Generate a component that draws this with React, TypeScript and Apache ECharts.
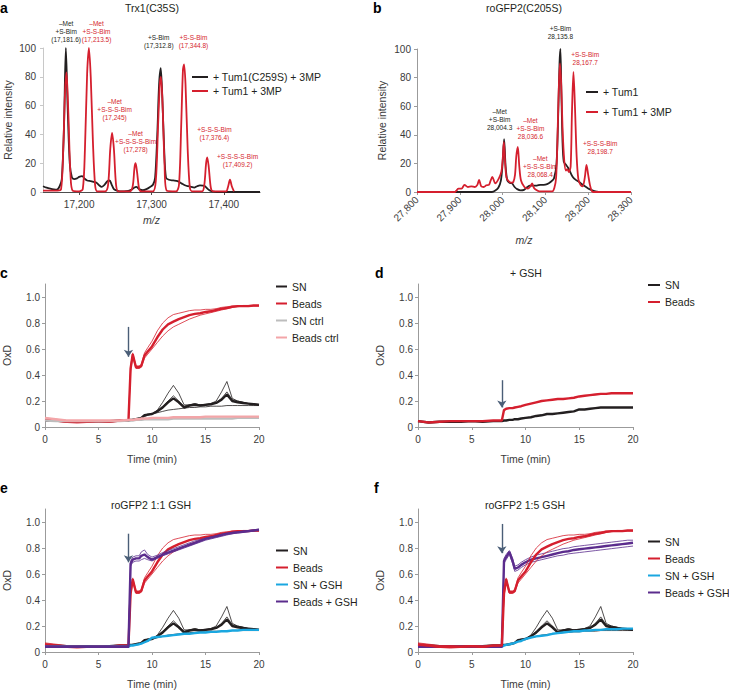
import React, { useEffect, useRef } from 'react';
import * as echarts from 'echarts';

const FONT = '"Liberation Sans", Arial, Helvetica, sans-serif';
const BLACK = '#231f20';
const RED = '#d51f2e';
const GREY = '#bdbdbd';
const PINK = '#f3a5a8';
const CYAN = '#1aa7e0';
const PURPLE = '#5b2c8d';
const ARROW = '#4a5e77';
const AXIS = '#9b9b9b';
const TEXT = '#3a3a3a';

// ---------- Panel a: Trx1(C35S) mass spectra [m/z, relative intensity] ----------
const TRX_C259S = [
  [17150, 4], [17155, 3], [17160, 2.3], [17165, 1.8], [17169, 1.6], [17173, 4], [17176, 9], [17179, 45],
  [17181.6, 100], [17184, 60], [17187, 20], [17190, 10], [17193, 9], [17197, 9.5], [17200, 10.5], [17204, 11],
  [17208, 9], [17211, 8], [17216, 7.5], [17220, 7], [17224, 6.5], [17228, 4.5], [17231, 3.5], [17235, 5],
  [17239, 7.5], [17242, 8], [17245, 5], [17248, 2], [17252, 1], [17256, 0.5], [17262, 0.5], [17268, 0.8],
  [17272, 1.5], [17276, 3], [17279, 3.5], [17283, 2], [17288, 1.2], [17293, 2], [17298, 3.5], [17302, 5],
  [17305, 10], [17308, 40], [17310.5, 75], [17312.8, 86], [17315, 65], [17317.5, 30], [17320, 10], [17324, 8.5],
  [17330, 8], [17336, 7.5], [17342, 5.8], [17347, 4.5], [17351, 4], [17355, 3.5], [17359, 3], [17363, 4],
  [17367, 4.6], [17371, 4.5], [17374, 4], [17378, 2], [17381, 1], [17386, 0.3], [17390, 0], [17450, 0],
];
const TRX_TUM1 = [
  [17150, 1], [17160, 1], [17170, 1], [17175, 2], [17178, 30], [17180.5, 70], [17182.5, 83], [17185, 55],
  [17188, 12], [17191, 1], [17200, 0.5], [17205, 2], [17208, 30], [17211, 82], [17213.5, 100], [17216, 80],
  [17219, 35], [17222, 5], [17225, 0.5], [17236, 0.5], [17240, 5], [17243, 30], [17245.5, 41], [17248, 30],
  [17251, 5], [17254, 0.5], [17270, 0.5], [17274, 4], [17276.5, 17], [17278, 20], [17280, 14], [17283, 2],
  [17286, 0.5], [17302, 0.5], [17306, 8], [17309, 45], [17311.5, 75], [17313, 80], [17315, 65], [17318, 20],
  [17321, 1], [17334, 0.5], [17338, 5], [17341, 45], [17343.5, 85], [17345, 88.6], [17347, 75], [17350, 30],
  [17353, 3], [17356, 0.5], [17370, 0.5], [17373, 5], [17375.5, 20], [17377, 24], [17379, 18], [17382, 3],
  [17385, 0.5], [17403, 0.5], [17406, 4], [17408.5, 8.6], [17411, 4], [17414, 0.5],
];

// ---------- Panel b: roGFP2(C205S) mass spectra ----------
const GFP_TUM1 = [
  [27800, 0], [27975, 0], [27983, 1], [27990, 3], [27996, 8], [28000, 20], [28003.5, 37], [28007, 18],
  [28011, 8], [28016, 6.5], [28022, 6], [28028, 3.5], [28034, 2], [28042, 1.2], [28050, 1.5], [28058, 3.5],
  [28064, 4.5], [28072, 4.5], [28080, 4.5], [28088, 5], [28096, 5], [28104, 5.5], [28112, 7], [28120, 9.5],
  [28126, 20], [28130, 55], [28133, 90], [28135, 100], [28137, 75], [28140, 35], [28143, 21], [28148, 19],
  [28153, 17], [28158, 14], [28164, 10.5], [28171, 8.5], [28179, 7], [28187, 5], [28195, 3.5], [28203, 2],
  [28211, 1], [28220, 0.3], [28226, 0], [28300, 0],
];
const GFP_TUM1_3MP = [
  [27800, 0], [27888, 0], [27892, 1], [27897, 2.3], [27904, 2.3], [27911, 5], [27919, 3.5], [27927, 4],
  [27935, 3.5], [27941, 5], [27945, 8.5], [27950, 4], [27956, 3.5], [27962, 4.7], [27968, 5], [27972, 8],
  [27976, 10.5], [27983, 6], [27991, 9.4], [27997, 14], [28000, 22], [28003, 35], [28006, 20], [28009, 10],
  [28013, 8], [28020, 6.5], [28025, 7], [28029, 12], [28032, 25], [28035.5, 31.5], [28039, 18], [28043, 8],
  [28051, 3.5], [28059, 2.3], [28065, 4], [28069, 6], [28073, 3], [28078, 1.5], [28086, 0.5], [28116, 0.5],
  [28121, 3], [28125, 10], [28128, 35], [28131, 70], [28134, 90], [28137, 75], [28140, 45], [28144, 22],
  [28148, 15], [28151, 16], [28155, 14], [28159, 18], [28162, 55], [28165.5, 84], [28169, 60], [28173, 25],
  [28177, 9], [28182, 5], [28187, 4], [28192, 10], [28196, 19], [28200, 12], [28204, 5], [28208, 1],
  [28212, 0], [28300, 0],
];

const MZ_A_TICKS = [17200, 17300, 17400];
const OXD_TICKS = [0, 0.2, 0.4, 0.6, 0.8, 1.0];

// ---------- Panels c-f: OxD time courses ----------
const TIME = [0, 1, 2, 3, 4, 5, 6, 7, 7.8, 8, 8.2, 8.5, 8.8, 9, 9.3, 9.6, 10, 10.5, 11, 11.5, 12, 12.5, 13, 13.5,
  14, 14.5, 15, 15.5, 16, 16.5, 17, 17.5, 18, 18.5, 19, 19.5, 20];

const SN_MEAN = [0.05, 0.05, 0.045, 0.045, 0.045, 0.045, 0.045, 0.05, 0.05,
  0.055, 0.055, 0.06, 0.065, 0.07, 0.09, 0.095,
  0.1, 0.12, 0.15, 0.19, 0.22, 0.19, 0.15, 0.165, 0.17, 0.165, 0.17, 0.175, 0.185, 0.21, 0.25, 0.2, 0.19, 0.185, 0.18, 0.175, 0.17];
const SN_REP1 = [0.05, 0.05, 0.045, 0.045, 0.045, 0.045, 0.045, 0.05, 0.05,
  0.055, 0.055, 0.06, 0.065, 0.07, 0.09, 0.095,
  0.1, 0.13, 0.19, 0.26, 0.32, 0.26, 0.17, 0.17, 0.18, 0.17, 0.17, 0.18, 0.2, 0.27, 0.35, 0.22, 0.2, 0.19, 0.18, 0.175, 0.17];
const SN_REP2 = [0.045, 0.045, 0.04, 0.04, 0.04, 0.04, 0.04, 0.045, 0.05,
  0.05, 0.055, 0.06, 0.065, 0.07, 0.08, 0.09,
  0.1, 0.11, 0.12, 0.13, 0.135, 0.14, 0.145, 0.15, 0.15, 0.155, 0.155, 0.16, 0.16, 0.16, 0.165, 0.165, 0.165, 0.165, 0.165, 0.165, 0.165];
const SN_REP3 = [0.05, 0.05, 0.05, 0.045, 0.045, 0.045, 0.045, 0.05, 0.05,
  0.055, 0.06, 0.06, 0.065, 0.07, 0.09, 0.1,
  0.1, 0.125, 0.16, 0.2, 0.24, 0.2, 0.16, 0.17, 0.18, 0.17, 0.175, 0.18, 0.19, 0.22, 0.27, 0.21, 0.2, 0.19, 0.18, 0.18, 0.175];

const BEADS_MEAN = [0.06, 0.05, 0.04, 0.04, 0.04, 0.045, 0.04, 0.05, 0.05,
  0.45, 0.56, 0.46, 0.46, 0.47, 0.55, 0.58,
  0.62, 0.69, 0.75, 0.79, 0.81, 0.83, 0.845, 0.86, 0.87, 0.875, 0.885, 0.89, 0.9, 0.91, 0.915, 0.925, 0.93, 0.93, 0.93, 0.935, 0.935];
const BEADS_REP1 = [0.07, 0.06, 0.05, 0.05, 0.045, 0.05, 0.045, 0.05, 0.05,
  0.47, 0.57, 0.47, 0.47, 0.48, 0.57, 0.61,
  0.66, 0.74, 0.8, 0.84, 0.865, 0.875, 0.885, 0.895, 0.9, 0.9, 0.905, 0.905, 0.91, 0.92, 0.925, 0.93, 0.93, 0.935, 0.935, 0.935, 0.935];
const BEADS_REP2 = [0.05, 0.045, 0.035, 0.03, 0.035, 0.04, 0.035, 0.045, 0.05,
  0.43, 0.54, 0.45, 0.45, 0.46, 0.53, 0.56,
  0.6, 0.65, 0.7, 0.74, 0.77, 0.79, 0.81, 0.83, 0.845, 0.86, 0.87, 0.88, 0.89, 0.9, 0.91, 0.92, 0.925, 0.93, 0.93, 0.93, 0.93];

const SN_CTRL = [0.05, 0.045, 0.045, 0.045, 0.045, 0.045, 0.045, 0.045, 0.05,
  0.05, 0.05, 0.055, 0.055, 0.055, 0.06, 0.06,
  0.06, 0.06, 0.06, 0.06, 0.065, 0.065, 0.065, 0.065, 0.065, 0.065, 0.065, 0.065, 0.065, 0.065, 0.065, 0.065, 0.07, 0.07, 0.07, 0.07, 0.07];
const BEADS_CTRL = [0.07, 0.06, 0.05, 0.05, 0.05, 0.05, 0.05, 0.05, 0.055,
  0.055, 0.055, 0.06, 0.06, 0.065, 0.065, 0.065,
  0.07, 0.07, 0.07, 0.07, 0.075, 0.075, 0.075, 0.075, 0.075, 0.075, 0.08, 0.08, 0.08, 0.08, 0.08, 0.08, 0.08, 0.08, 0.08, 0.08, 0.08];

const D_SN = [0.045, 0.035, 0.04, 0.04, 0.04, 0.045, 0.04, 0.045, 0.045,
  0.05, 0.05, 0.055, 0.055, 0.06, 0.06, 0.065,
  0.07, 0.075, 0.085, 0.09, 0.1, 0.1, 0.105, 0.11, 0.115, 0.12, 0.135, 0.135, 0.14, 0.145, 0.15, 0.15, 0.15, 0.15, 0.15, 0.15, 0.15];
const D_BEADS = [0.045, 0.035, 0.04, 0.045, 0.045, 0.045, 0.045, 0.05, 0.05,
  0.13, 0.14, 0.145, 0.145, 0.15, 0.155, 0.16,
  0.17, 0.18, 0.19, 0.2, 0.205, 0.21, 0.215, 0.215, 0.22, 0.225, 0.235, 0.24, 0.245, 0.25, 0.255, 0.255, 0.26, 0.26, 0.26, 0.26, 0.26];

const E_SN_GSH = [0.04, 0.04, 0.04, 0.04, 0.04, 0.04, 0.04, 0.04, 0.04,
  0.05, 0.05, 0.055, 0.06, 0.065, 0.075, 0.085,
  0.11, 0.115, 0.12, 0.125, 0.13, 0.135, 0.14, 0.14, 0.145, 0.15, 0.15, 0.155, 0.155, 0.16, 0.16, 0.165, 0.165, 0.17, 0.17, 0.17, 0.17];
const E_BG_MEAN = [0.04, 0.04, 0.04, 0.04, 0.04, 0.04, 0.04, 0.04, 0.04,
  0.68, 0.71, 0.72, 0.72, 0.74, 0.75, 0.73,
  0.71, 0.73, 0.75, 0.765, 0.78, 0.795, 0.81, 0.825, 0.84, 0.855, 0.87, 0.88, 0.89, 0.9, 0.91, 0.915, 0.92, 0.925, 0.93, 0.935, 0.94];
const E_BG_REP1 = [0.045, 0.045, 0.045, 0.045, 0.045, 0.045, 0.045, 0.045, 0.045,
  0.7, 0.73, 0.74, 0.74, 0.77, 0.785, 0.75,
  0.73, 0.745, 0.765, 0.78, 0.795, 0.81, 0.825, 0.84, 0.855, 0.865, 0.875, 0.885, 0.895, 0.905, 0.91, 0.92, 0.925, 0.93, 0.935, 0.94, 0.945];
const E_BG_REP2 = [0.035, 0.035, 0.035, 0.035, 0.035, 0.035, 0.035, 0.035, 0.035,
  0.66, 0.69, 0.7, 0.7, 0.71, 0.72, 0.71,
  0.7, 0.72, 0.74, 0.755, 0.77, 0.785, 0.8, 0.815, 0.83, 0.845, 0.86, 0.87, 0.88, 0.89, 0.9, 0.91, 0.915, 0.92, 0.925, 0.93, 0.935];

const F_SN_GSH = [0.04, 0.04, 0.04, 0.04, 0.04, 0.04, 0.04, 0.04, 0.04,
  0.05, 0.055, 0.06, 0.065, 0.07, 0.08, 0.085,
  0.1, 0.11, 0.12, 0.125, 0.13, 0.14, 0.145, 0.15, 0.155, 0.16, 0.16, 0.165, 0.165, 0.17, 0.17, 0.175, 0.175, 0.175, 0.18, 0.18, 0.18];
const F_BG_MEAN = [0.04, 0.04, 0.04, 0.04, 0.04, 0.04, 0.04, 0.04, 0.04,
  0.7, 0.73, 0.77, 0.7, 0.64, 0.65, 0.67,
  0.69, 0.71, 0.72, 0.73, 0.74, 0.75, 0.76, 0.77, 0.775, 0.785, 0.79, 0.795, 0.8, 0.805, 0.81, 0.815, 0.82, 0.825, 0.83, 0.835, 0.84];
const F_BG_REP1 = [0.045, 0.045, 0.045, 0.045, 0.045, 0.045, 0.045, 0.045, 0.045,
  0.72, 0.75, 0.78, 0.72, 0.66, 0.67, 0.69,
  0.71, 0.73, 0.745, 0.755, 0.765, 0.775, 0.785, 0.795, 0.8, 0.81, 0.815, 0.82, 0.825, 0.83, 0.835, 0.84, 0.845, 0.85, 0.855, 0.86, 0.86];
const F_BG_REP2 = [0.035, 0.035, 0.035, 0.035, 0.035, 0.035, 0.035, 0.035, 0.035,
  0.68, 0.71, 0.75, 0.68, 0.62, 0.63, 0.65,
  0.67, 0.69, 0.7, 0.71, 0.72, 0.73, 0.74, 0.745, 0.755, 0.76, 0.765, 0.77, 0.775, 0.78, 0.785, 0.79, 0.795, 0.8, 0.805, 0.81, 0.815];

// ---------- annotations ----------
const ANNOT_A = [
  { lines: ['–Met', '+S-Bim', '(17,181.6)'], x: 17182, y: 103, color: BLACK },
  { lines: ['–Met', '+S-S-Bim', '(17,213.5)'], x: 17224, y: 103, color: RED },
  { lines: ['+S-Bim', '(17,312.8)'], x: 17310, y: 99.3, color: BLACK },
  { lines: ['+S-S-Bim', '(17,344.8)'], x: 17358, y: 99.3, color: RED },
  { lines: ['–Met', '+S-S-S-Bim', '(17,245)'], x: 17249, y: 49.3, color: RED },
  { lines: ['–Met', '+S-S-S-S-Bim', '(17,278)'], x: 17278, y: 27, color: RED },
  { lines: ['+S-S-S-Bim', '(17,376.4)'], x: 17387, y: 35.4, color: RED },
  { lines: ['+S-S-S-S-Bim', '(17,409.2)'], x: 17419, y: 16, color: RED },
];
const ANNOT_B = [
  { lines: ['+S-Bim', '28,135.8'], x: 28135, y: 105.8, color: BLACK },
  { lines: ['+S-S-Bim', '28,167.7'], x: 28193, y: 87.6, color: RED },
  { lines: ['–Met', '+S-Bim', '28,004.3'], x: 27993, y: 42.6, color: BLACK },
  { lines: ['–Met', '+S-S-Bim', '28,036.6'], x: 28065, y: 36.3, color: RED },
  { lines: ['–Met', '+S-S-S-Bim', '28,068.4'], x: 28088, y: 9.6, color: RED },
  { lines: ['+S-S-S-Bim', '28,198.7'], x: 28228, y: 25.8, color: RED },
];

const PANEL_LETTERS = [
  { t: 'a', x: 0, y: 1 }, { t: 'b', x: 373, y: 1 },
  { t: 'c', x: 0, y: 266 }, { t: 'd', x: 375, y: 266 },
  { t: 'e', x: 0, y: 480.5 }, { t: 'f', x: 374, y: 480.5 },
];
const PANEL_TITLES = [
  { t: 'Trx1(C35S)', x: 152, y: 7.5 }, { t: 'roGFP2(C205S)', x: 524, y: 7.5 },
  { t: '+ GSH', x: 526, y: 273 }, { t: 'roGFP2 1:1 GSH', x: 151, y: 505 },
  { t: 'roGFP2 1:5 GSH', x: 525, y: 505 },
];

const pairs = (vals: number[]) => TIME.map((t, i) => [t, vals[i]]);

function line(name: string, data: any[], color: string, width: number, idx: number, extra: any = {}) {
  return {
    type: 'line', name, data, xAxisIndex: idx, yAxisIndex: idx, symbol: 'none', showSymbol: false,
    lineStyle: { color, width }, itemStyle: { color }, emphasis: { disabled: true }, silent: true,
    animation: false, ...extra,
  };
}

function arrow(t: number, from: number, to: number) {
  return {
    silent: true, symbol: ['none', 'arrow'], symbolSize: 7, label: { show: false },
    emphasis: { disabled: true }, itemStyle: { color: ARROW },
    lineStyle: { color: ARROW, width: 1.4, type: 'solid' },
    data: [[{ coord: [t, from] }, { coord: [t, to] }]],
  };
}

const nameStyle = { fontSize: 10.5, color: TEXT, fontFamily: FONT };
const labelStyle = { fontSize: 10, color: TEXT, fontFamily: FONT };

function timeX(gi: number) {
  return {
    type: 'value', gridIndex: gi, min: 0, max: 20, interval: 5, name: 'Time (min)', nameLocation: 'middle',
    nameGap: 26, nameTextStyle: nameStyle,
    axisLine: { show: true, onZero: false, lineStyle: { color: AXIS, width: 1 } },
    axisTick: { show: true, length: 3, lineStyle: { color: AXIS } },
    axisLabel: { ...labelStyle, margin: 7 }, splitLine: { show: false },
  };
}
function oxdY(gi: number) {
  return {
    type: 'value', gridIndex: gi, min: 0, max: 1.1, name: 'OxD', nameLocation: 'middle', nameGap: 33,
    nameTextStyle: nameStyle,
    axisLine: { show: true, onZero: false, lineStyle: { color: AXIS, width: 1 } },
    axisTick: { show: true, length: 3, customValues: OXD_TICKS, lineStyle: { color: AXIS } },
    axisLabel: { ...labelStyle, margin: 5, customValues: OXD_TICKS, formatter: (v: number) => (v === 0 ? '0' : v.toFixed(1)) },
    splitLine: { show: false },
  };
}

function legend(names: string[], left: number, top: number, w: number, gap: number, size = 10.5) {
  return {
    data: names, left, top, orient: 'vertical', padding: 0, itemWidth: w, itemHeight: 2, itemGap: gap,
    itemTextGap: 5, icon: 'rect', selectedMode: false,
    textStyle: { fontSize: size, lineHeight: 12, color: BLACK, fontFamily: FONT },
  };
}

function buildOption() {
  const series: any[] = [
    // a
    line('+ Tum1(C259S) + 3MP', TRX_C259S, BLACK, 1.8, 0, { smooth: 0.3 }),
    line('+ Tum1 + 3MP', TRX_TUM1, RED, 1.8, 0, { smooth: 0.3 }),
    // b
    line('+ Tum1', GFP_TUM1, BLACK, 1.8, 1, { smooth: 0.3 }),
    line('+ Tum1 + 3MP', GFP_TUM1_3MP, RED, 1.8, 1, { smooth: 0.3 }),
    // c
    line('SN rep c1', pairs(SN_REP1), BLACK, 0.8, 2),
    line('SN rep c2', pairs(SN_REP2), BLACK, 0.8, 2),
    line('SN rep c3', pairs(SN_REP3), BLACK, 0.8, 2),
    line('SN', pairs(SN_MEAN), BLACK, 2.4, 2),
    line('Beads rep c1', pairs(BEADS_REP1), RED, 0.8, 2),
    line('Beads rep c2', pairs(BEADS_REP2), RED, 0.8, 2),
    line('Beads', pairs(BEADS_MEAN), RED, 2.4, 2, { markLine: arrow(7.8, 0.77, 0.54) }),
    line('SN ctrl', pairs(SN_CTRL), GREY, 2.4, 2),
    line('Beads ctrl', pairs(BEADS_CTRL), PINK, 2.4, 2),
    // d
    line('SN', pairs(D_SN), BLACK, 2.4, 3),
    line('Beads', pairs(D_BEADS), RED, 2.4, 3, { markLine: arrow(7.8, 0.36, 0.15) }),
    // e
    line('SN rep e1', pairs(SN_REP1), BLACK, 0.8, 4),
    line('SN rep e2', pairs(SN_REP2), BLACK, 0.8, 4),
    line('SN rep e3', pairs(SN_REP3), BLACK, 0.8, 4),
    line('SN', pairs(SN_MEAN), BLACK, 2.4, 4),
    line('Beads rep e1', pairs(BEADS_REP1), RED, 0.8, 4),
    line('Beads rep e2', pairs(BEADS_REP2), RED, 0.8, 4),
    line('Beads', pairs(BEADS_MEAN), RED, 2.4, 4),
    line('SN + GSH', pairs(E_SN_GSH), CYAN, 2.4, 4),
    line('Beads + GSH rep e1', pairs(E_BG_REP1), PURPLE, 0.8, 4),
    line('Beads + GSH rep e2', pairs(E_BG_REP2), PURPLE, 0.8, 4),
    line('Beads + GSH', pairs(E_BG_MEAN), PURPLE, 2.4, 4, { markLine: arrow(7.8, 0.91, 0.69) }),
    // f
    line('SN rep f1', pairs(SN_REP1), BLACK, 0.8, 5),
    line('SN rep f2', pairs(SN_REP2), BLACK, 0.8, 5),
    line('SN rep f3', pairs(SN_REP3), BLACK, 0.8, 5),
    line('SN', pairs(SN_MEAN), BLACK, 2.4, 5),
    line('SN + GSH', pairs(F_SN_GSH), CYAN, 2.4, 5),
    line('Beads + GSH rep f1', pairs(F_BG_REP1), PURPLE, 0.8, 5),
    line('Beads + GSH rep f2', pairs(F_BG_REP2), PURPLE, 0.8, 5),
    line('Beads + GSH', pairs(F_BG_MEAN), PURPLE, 2.4, 5, { markLine: arrow(7.8, 0.985, 0.76) }),
    line('Beads rep f1', pairs(BEADS_REP1), RED, 0.8, 5),
    line('Beads rep f2', pairs(BEADS_REP2), RED, 0.8, 5),
    line('Beads', pairs(BEADS_MEAN), RED, 2.4, 5),
  ];

  return {
    animation: false,
    backgroundColor: '#ffffff',
    textStyle: { fontFamily: FONT },
    grid: [
      { left: 43, top: 48, width: 217, height: 144 },
      { left: 417, top: 49, width: 214, height: 143 },
      { left: 44, top: 284, width: 215, height: 143 },
      { left: 418, top: 284, width: 215, height: 143 },
      { left: 44, top: 509, width: 215, height: 144 },
      { left: 418, top: 509, width: 215, height: 144 },
    ],
    xAxis: [
      {
        type: 'value', gridIndex: 0, min: 17150, max: 17450, name: 'm/z', nameLocation: 'middle', nameGap: 22,
        nameTextStyle: { ...nameStyle, fontStyle: 'italic' },
        axisLine: { show: true, onZero: false, lineStyle: { color: '#4d4d4d', width: 1 } },
        axisTick: { show: true, length: 3, customValues: MZ_A_TICKS, lineStyle: { color: '#4d4d4d' } },
        axisLabel: { ...labelStyle, margin: 7, customValues: MZ_A_TICKS, formatter: (v: number) => v.toLocaleString('en-US') },
        splitLine: { show: false },
      },
      {
        type: 'value', gridIndex: 1, min: 27800, max: 28300, interval: 100, name: 'm/z', nameLocation: 'middle', nameGap: 42,
        nameTextStyle: { ...nameStyle, fontStyle: 'italic' },
        axisLine: { show: true, onZero: false, lineStyle: { color: AXIS, width: 1 } },
        axisTick: { show: true, length: 3, lineStyle: { color: AXIS } },
        axisLabel: { ...labelStyle, margin: 6, rotate: 45, formatter: (v: number) => v.toLocaleString('en-US') },
        splitLine: { show: false },
      },
      timeX(2), timeX(3), timeX(4), timeX(5),
    ],
    yAxis: [
      {
        type: 'value', gridIndex: 0, min: 0, max: 100, interval: 20, name: 'Relative intensity', nameLocation: 'middle',
        nameGap: 30, nameTextStyle: nameStyle,
        axisLine: { show: true, onZero: false, lineStyle: { color: '#c8c8c8', width: 1 } },
        axisTick: { show: true, length: 3, lineStyle: { color: '#c8c8c8' } },
        axisLabel: { ...labelStyle, margin: 7 }, splitLine: { show: false },
      },
      {
        type: 'value', gridIndex: 1, min: 0, max: 100, interval: 20, name: 'Relative intensity', nameLocation: 'middle',
        nameGap: 30, nameTextStyle: nameStyle,
        axisLine: { show: true, onZero: false, lineStyle: { color: AXIS, width: 1 } },
        axisTick: { show: true, length: 3, lineStyle: { color: AXIS } },
        axisLabel: { ...labelStyle, margin: 6 }, splitLine: { show: false },
      },
      oxdY(2), oxdY(3), oxdY(4), oxdY(5),
    ],
    legend: [
      legend(['+ Tum1(C259S) + 3MP', '+ Tum1 + 3MP'], 192, 71, 16, 2),
      legend(['+ Tum1', '+ Tum1 + 3MP'], 586, 86, 12, 8),
      legend(['SN', 'Beads', 'SN ctrl', 'Beads ctrl'], 276, 280.5, 11, 5),
      legend(['SN', 'Beads'], 648, 279, 12, 5),
      legend(['SN', 'Beads', 'SN + GSH', 'Beads + GSH'], 276, 544.5, 12, 5),
      legend(['SN', 'Beads', 'SN + GSH', 'Beads + GSH'], 648, 535.5, 12, 5),
    ],
    series,
  };
}

function buildGraphics(chart: any) {
  const els: any[] = [];
  const annot = (list: any[], gi: number) => {
    list.forEach((a) => {
      const p = chart.convertToPixel({ gridIndex: gi }, [a.x, a.y]);
      els.push({
        type: 'text', x: p[0], y: p[1], silent: true,
        style: {
          text: a.lines.join('\n'), fill: a.color, fontSize: 6.5, lineHeight: 8, fontFamily: FONT,
          align: 'center', verticalAlign: 'bottom',
        },
      });
    });
  };
  annot(ANNOT_A, 0);
  annot(ANNOT_B, 1);
  PANEL_LETTERS.forEach((l) => els.push({
    type: 'text', x: l.x, y: l.y, silent: true,
    style: { text: l.t, fill: '#000', fontSize: 14, fontWeight: 'bold', fontFamily: FONT, align: 'left', verticalAlign: 'top' },
  }));
  PANEL_TITLES.forEach((l) => els.push({
    type: 'text', x: l.x, y: l.y, silent: true,
    style: { text: l.t, fill: BLACK, fontSize: 10.5, fontFamily: FONT, align: 'center', verticalAlign: 'middle' },
  }));
  return els;
}

export default function App() {
  const ref = useRef<HTMLDivElement>(null);
  useEffect(() => {
    if (!ref.current) return;
    const chart = echarts.init(ref.current, null, { renderer: 'svg' });
    chart.setOption(buildOption() as any);
    chart.setOption({ graphic: buildGraphics(chart) } as any);
    return () => chart.dispose();
  }, []);
  return <div ref={ref} style={{ position: 'absolute', left: 0, top: 0, width: 729, height: 690, background: '#fff' }} />;
}
